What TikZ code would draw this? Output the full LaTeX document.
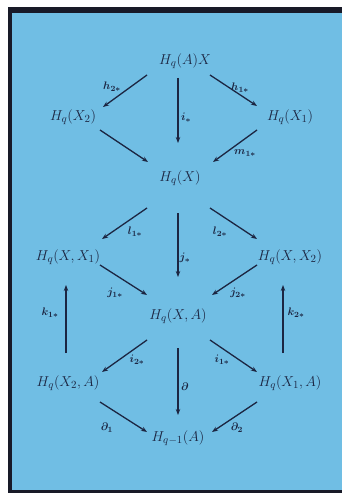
\documentclass[tikz,border=0pt]{standalone}
\usepackage{amsmath}
\usepackage{bm}
\usetikzlibrary{calc,arrows.meta}
\definecolor{bgblue}{RGB}{112,190,228}
\definecolor{ink}{RGB}{28,38,66}
\definecolor{frame}{RGB}{24,26,40}
\tikzset{
  obj/.style={inner sep=0pt, text=ink, font=\fontsize{15}{17}\selectfont},
  lbl/.style={inner sep=0pt, text=ink, font=\fontsize{11}{13}\selectfont},
  arr/.style={draw=ink, line width=1.3pt, -{Stealth[length=6pt,width=4.5pt]}}
}
\begin{document}
\begin{tikzpicture}[x=1bp,y=-1bp]
\useasboundingbox (0,0) rectangle (342,493);
\fill[white] (0,0) rectangle (342,493);
\fill[frame] (8,7) rectangle (342,493);
\fill[bgblue] (12,13) rectangle (342,490);

% objects
\node[obj] (T)   at (185,61)  {$H_q(A)X$};
\node[obj] (X2)  at (73,117)  {$H_q(X_2)$};
\node[obj] (X1)  at (290,117) {$H_q(X_1)$};
\node[obj] (X)   at (180,178) {$H_q(X)$};
\node[obj] (XX1) at (68,257)  {$H_q(X,X_1)$};
\node[obj] (XX2) at (290,257) {$H_q(X,X_2)$};
\node[obj] (XA)  at (178,316) {$H_q(X,A)$};
\node[obj] (X2A) at (68,383)  {$H_q(X_2,A)$};
\node[obj] (X1A) at (290,383) {$H_q(X_1,A)$};
\node[obj] (A)   at (178,438) {$H_{q-1}(A)$};

% arrows
\draw[arr] ($(T)+(-38,14)$) -- ($(X2)+(30,-10)$);
\draw[arr] ($(T)+(-7,17)$)  -- ($(X)+(-2,-35)$);
\draw[arr] ($(T)+(25,14)$)  -- ($(X1)+(-33,-11)$);
\draw[arr] ($(X2)+(27,13)$) -- ($(X)+(-32,-16)$);
\draw[arr] ($(X1)+(-33,13)$) -- ($(X)+(33,-16)$);

\draw[arr] ($(X)+(-33,30)$) -- ($(XX1)+(34,-18)$);
\draw[arr] ($(X)+(-2,35)$)  -- ($(XA)+(0,-39)$);
\draw[arr] ($(X)+(30,30)$)  -- ($(XX2)+(-33,-18)$);
\draw[arr] ($(XX1)+(32,8)$) -- ($(XA)+(-31,-21)$);
\draw[arr] ($(XX2)+(-33,8)$) -- ($(XA)+(34,-21)$);

\draw[arr] ($(X2A)+(-2,-30)$) -- ($(XX1)+(-2,28)$);
\draw[arr] ($(X1A)+(-7,-30)$) -- ($(XX2)+(-7,28)$);

\draw[arr] ($(XA)+(-31,24)$) -- ($(X2A)+(34,-11)$);
\draw[arr] ($(XA)+(0,32)$)   -- ($(A)+(0,-23)$);
\draw[arr] ($(XA)+(32,24)$)  -- ($(X1A)+(-33,-11)$);
\draw[arr] ($(X2A)+(32,19)$) -- ($(A)+(-31,-6)$);
\draw[arr] ($(X1A)+(-33,19)$) -- ($(A)+(34,-6)$);

% labels
\node[lbl] (lh2) at (112,87)  {$\bm{h_{2*}}$};
\node[lbl] (li)  at (186,118) {$\bm{i_{*}}$};
\node[lbl] (lh1) at (240,88)  {$\bm{h_{1*}}$};
\node[lbl] (lm1) at (245,153) {$\bm{m_{1*}}$};
\node[lbl] (ll1) at (135,232) {$\bm{l_{1*}}$};
\node[lbl] (lj)  at (185,258) {$\bm{j_{*}}$};
\node[lbl] (ll2) at (220,232) {$\bm{l_{2*}}$};
\node[lbl] (lj1) at (115,293) {$\bm{j_{1*}}$};
\node[lbl] (lj2) at (238,293) {$\bm{j_{2*}}$};
\node[lbl] (lk1) at (50,313)  {$\bm{k_{1*}}$};
\node[lbl] (lk2) at (296,313) {$\bm{k_{2*}}$};
\node[lbl] (li2) at (137,360) {$\bm{i_{2*}}$};
\node[lbl] (ld)  at (185,387) {$\bm{\partial}$};
\node[lbl] (li1) at (222,360) {$\bm{i_{1*}}$};
\node[lbl] (ld1) at (107,428) {$\bm{\partial_{1}}$};
\node[lbl] (ld2) at (237,428) {$\bm{\partial_{2}}$};
\end{tikzpicture}
\end{document}
